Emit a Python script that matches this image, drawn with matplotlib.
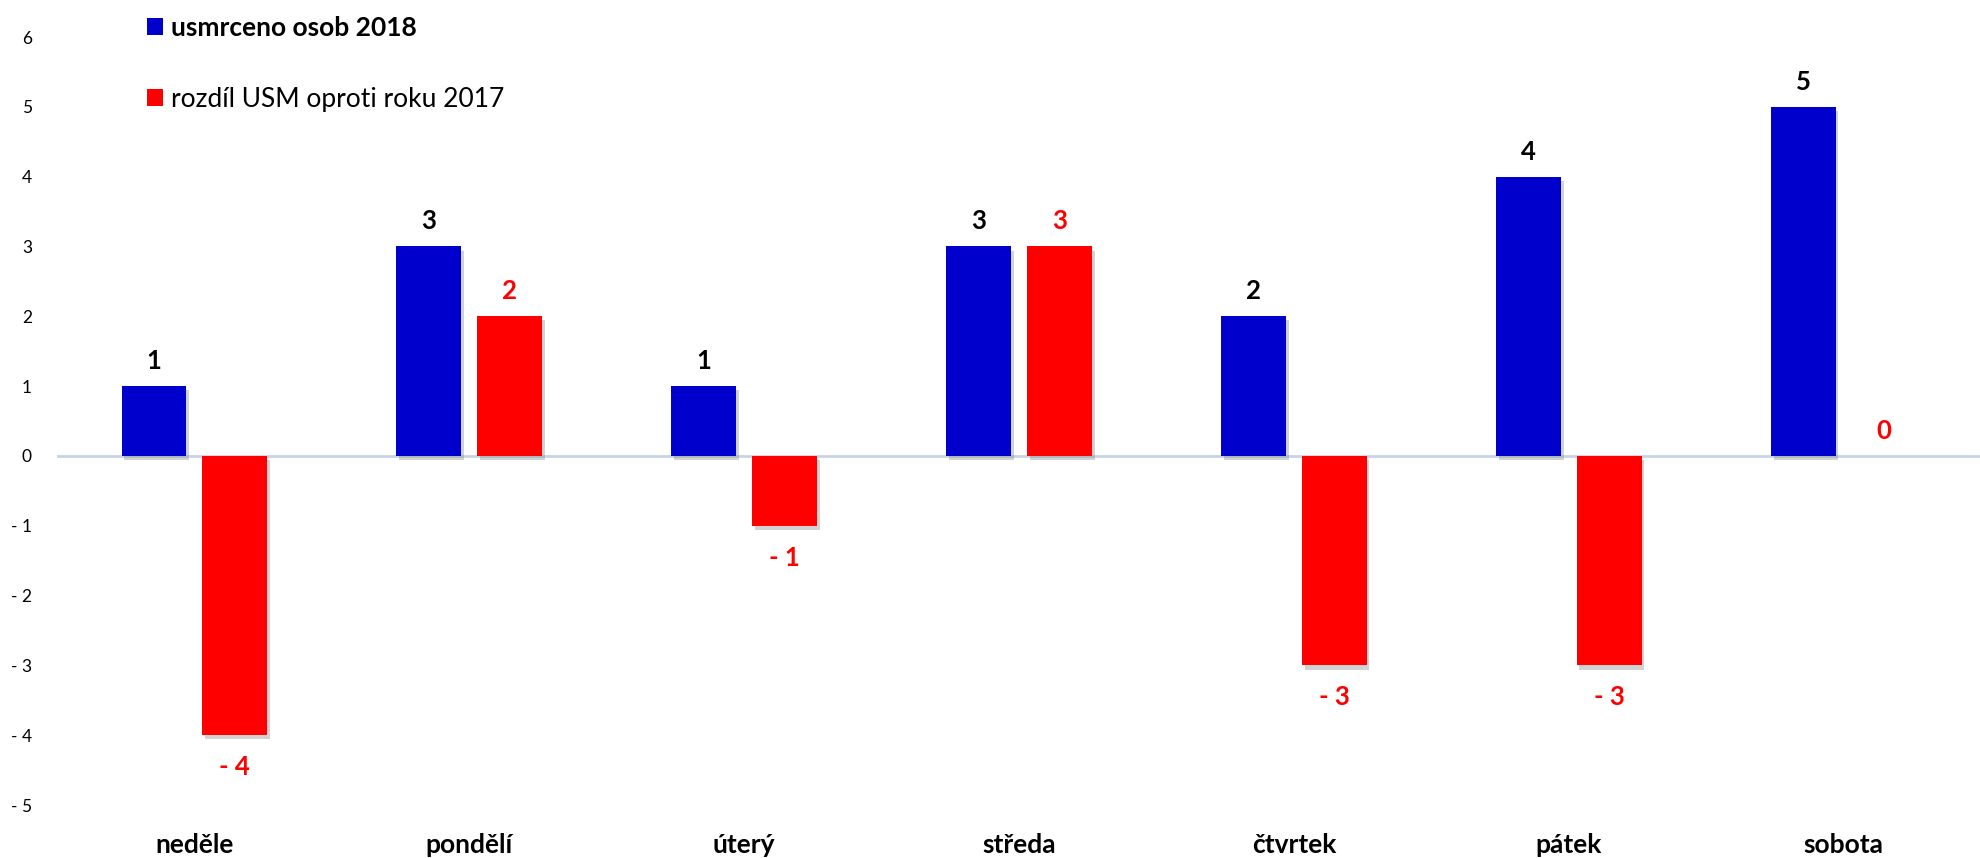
import matplotlib
matplotlib.use('Agg')
import matplotlib.pyplot as plt
import matplotlib.patheffects as pe
import numpy as np

plt.rcParams['font.family'] = ['Lato', 'DejaVu Sans']

# dny v tydnu
dny = ['neděle', 'pondělí', 'úterý', 'středa', 'čtvrtek', 'pátek', 'sobota']
# usmrceno osob 2018
usmrceno = [1, 3, 1, 3, 2, 4, 5]
# rozdil oproti roku 2017
rozdil = [-4, 2, -1, 3, -3, -3, 0]

modra = '#0000CC'
cervena = '#FF0000'

fig = plt.figure(figsize=(19.81, 8.58), dpi=100)
ax = fig.add_axes([57/1981, 53/858, 1 - 57/1981, 768/858])

x = np.arange(len(dny))
w = 0.236
d = 0.147
stin = [pe.SimplePatchShadow(offset=(2, -3), shadow_rgbFace='#808080', alpha=0.35), pe.Normal()]
b1 = ax.bar(x - d, usmrceno, w, color=modra, label='usmrceno osob 2018', zorder=3)
b2 = ax.bar(x + d, rozdil, w, color=cervena, label='rozdíl USM oproti roku 2017', zorder=3)
for b in list(b1) + list(b2):
    b.set_path_effects(stin)

ax.axhline(0, color='#c6d4e8', lw=2, zorder=2)

# popisky hodnot
for xi, v in zip(x - d, usmrceno):
    ax.annotate(str(v), (xi, v), xytext=(0, 18), textcoords='offset points',
                ha='center', va='center', fontsize=18.5, fontweight='bold', color='black')
for xi, v in zip(x + d, rozdil):
    if v < 0:
        txt, off = '- %d' % abs(v), -23
    else:
        txt, off = str(v), 18
    ax.annotate(txt, (xi, v), xytext=(0, off), textcoords='offset points',
                ha='center', va='center', fontsize=18.5, fontweight='bold', color=cervena)

ax.set_xlim(-0.5, 6.5)
ax.set_ylim(-5, 6)
ax.set_yticks(range(-5, 7))
ax.set_yticklabels([('- %d' % abs(v)) if v < 0 else str(v) for v in range(-5, 7)], fontsize=12.5)
ax.set_xticks(x)
ax.set_xticklabels(dny, fontsize=19, fontweight='bold')
ax.tick_params(axis='y', length=0, pad=18)
ax.tick_params(axis='x', length=0, pad=20)
for s in ax.spines.values():
    s.set_visible(False)

leg = ax.legend(loc='upper left', bbox_to_anchor=(147/1981, 1 - 16/858), bbox_transform=fig.transFigure,
                frameon=False, fontsize=19, handlelength=0.6, handleheight=0.6,
                handletextpad=0.3, labelspacing=1.78, borderaxespad=0, borderpad=0)
leg.get_texts()[0].set_fontweight('bold')
for h in leg.legend_handles:
    h.set_path_effects([])

fig.savefig('out.png', dpi=100)
